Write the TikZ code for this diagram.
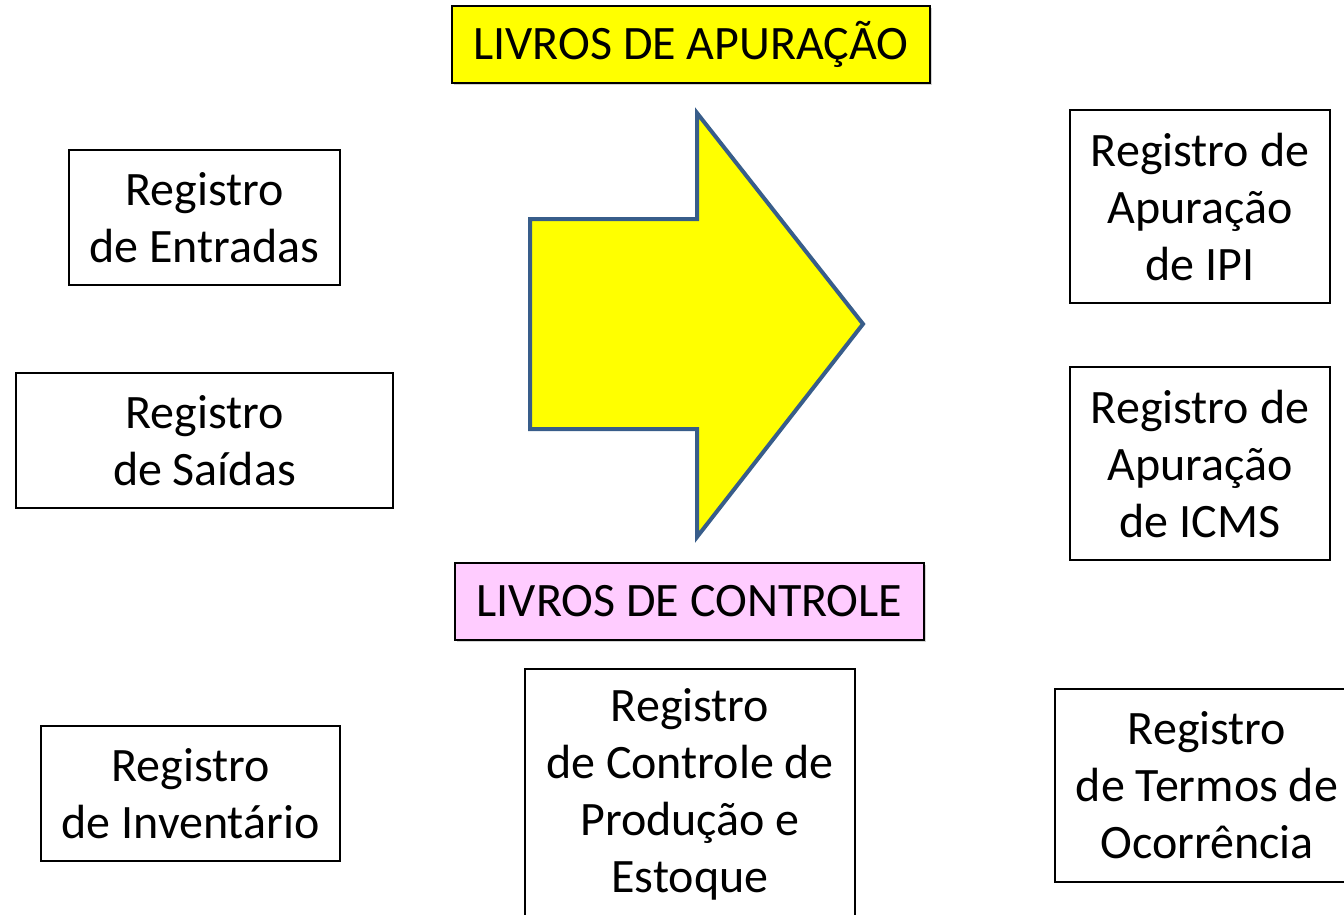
\documentclass[tikz,border=0pt]{standalone}
\usepackage{fontspec}
\setmainfont{Carlito}
\usetikzlibrary{shadows}
\definecolor{amarelo}{HTML}{FFFF00}
\definecolor{rosa}{HTML}{FFCCFF}
\definecolor{contorno}{HTML}{385D8A}
\newcommand{\fonteregistro}{\fontsize{24pt}{28.5pt}\selectfont}
\tikzset{
  caixa/.style={draw=black, line width=1pt, align=center, inner sep=0pt, font=\fonteregistro},
  titulo/.style={caixa, drop shadow={shadow xshift=1pt, shadow yshift=-1pt, opacity=0.35}},
  seta/.style={fill=amarelo, draw=contorno, line width=2pt, line join=miter}
}
\begin{document}
\begin{tikzpicture}[x=0.5pt,y=-0.5pt]
\useasboundingbox (0,0) rectangle (1344,915);
% titulos
\node[titulo, fill=amarelo, minimum width=239pt, minimum height=38.5pt] (apuracao) at (691,44.5) {LIVROS DE APURAÇÃO};
\node[titulo, fill=rosa, minimum width=234.5pt, minimum height=38.5pt] (controle) at (689.5,601.5) {LIVROS DE CONTROLE};
% seta
\draw[seta] (530,219) -- (697,219) -- (697,113) -- (863,324) -- (697,537) -- (697,429) -- (530,429) -- cycle;
% livros de apuracao
\node[caixa, minimum width=135.5pt, minimum height=67.5pt] (entradas) at (204.5,217.5) {Registro\\de Entradas};
\node[caixa, minimum width=188.5pt, minimum height=67.5pt] (saidas) at (204.5,440.5) {Registro\\de Saídas};
\node[caixa, minimum width=130pt, minimum height=96.5pt] (ipi) at (1200,206.5) {Registro de\\Apuração\\de IPI};
\node[caixa, minimum width=130pt, minimum height=96.5pt] (icms) at (1200,463.5) {Registro de\\Apuração\\de ICMS};
% livros de controle
\node[caixa, minimum width=149.5pt, minimum height=67.5pt] (inventario) at (190.5,793.5) {Registro\\de Inventário};
\node[caixa, minimum width=165pt, minimum height=125pt] (producao) at (690,794) {Registro\\de Controle de\\Produção e\\Estoque};
\node[caixa, minimum width=152pt, minimum height=96.5pt] (termos) at (1207,785.5) {Registro\\de Termos de\\Ocorrência};
\end{tikzpicture}
\end{document}
